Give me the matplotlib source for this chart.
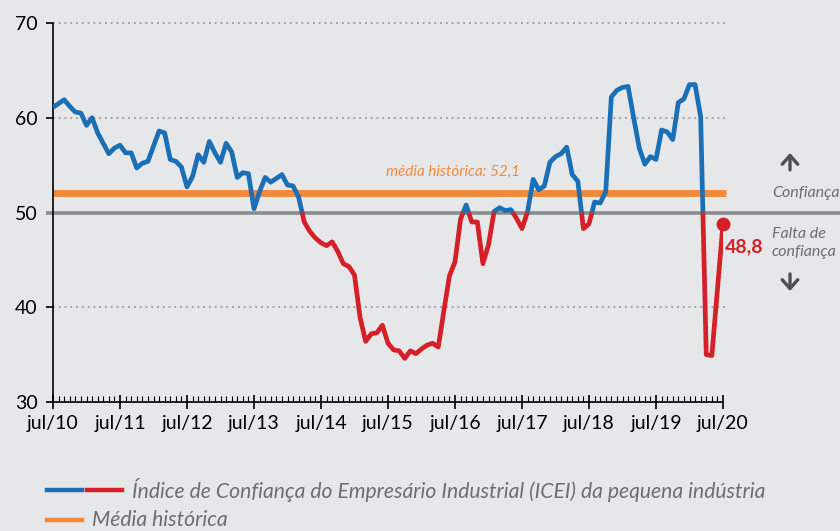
import matplotlib
matplotlib.use('Agg')
import matplotlib.pyplot as plt
from matplotlib.lines import Line2D
from matplotlib.patches import FancyArrowPatch
import numpy as np

# ICEI pequena industria, monthly jul/10 .. jul/20
icei = [61.1, 61.5, 61.9, 61.2, 60.6, 60.5, 59.2, 60.0, 58.4, 57.3,
        56.2, 56.8, 57.1, 56.3, 56.3, 54.7, 55.2, 55.4, 57.0, 58.6,
        58.4, 55.6, 55.4, 54.8, 52.7, 53.8, 56.1, 55.3, 57.5, 56.3,
        55.3, 57.3, 56.4, 53.7, 54.2, 54.1, 50.4, 52.2, 53.7, 53.2,
        53.6, 54.0, 52.9, 52.8, 51.6, 49.0, 48.0, 47.3, 46.8, 46.5,
        46.9, 45.9, 44.6, 44.3, 43.4, 38.9, 36.4, 37.2, 37.3, 38.1,
        36.2, 35.5, 35.4, 34.6, 35.4, 35.1, 35.6, 36.0, 36.2, 35.8,
        39.6, 43.3, 44.8, 49.3, 50.8, 49.0, 49.0, 44.6, 46.6, 50.1,
        50.5, 50.2, 50.3, 49.4, 48.3, 50.1, 53.5, 52.4, 52.8, 55.3,
        55.9, 56.2, 56.9, 54.0, 53.3, 48.3, 48.8, 51.1, 51.0, 52.2,
        62.2, 62.9, 63.2, 63.3, 60.0, 56.8, 55.1, 55.9, 55.6, 58.7,
        58.5, 57.7, 61.6, 62.0, 63.5, 63.5, 60.1, 35.0, 34.9, 41.8,
        48.8]
tick_labels = ['jul/10', 'jul/11', 'jul/12', 'jul/13', 'jul/14', 'jul/15',
               'jul/16', 'jul/17', 'jul/18', 'jul/19', 'jul/20']
media = 52.1
limite = 50

blue = '#1a6fb5'
red = '#d42029'
orange = '#f28a3c'
gray_txt = '#6d6e71'
bg = '#e6e7e9'

plt.rcParams['font.family'] = ['Lato', 'DejaVu Sans']

# split the series where it crosses 50 so it can be coloured in two parts
xs, ys = [], []
for i in range(len(icei)):
    xs.append(i)
    ys.append(icei[i])
    if i < len(icei) - 1:
        a, b = icei[i], icei[i + 1]
        if (a - limite) * (b - limite) < 0:
            xs.append(i + (limite - a) / (b - a))
            ys.append(limite)
xs = np.array(xs)
ys = np.array(ys)
y_hi = np.where(ys >= limite, ys, np.nan)
y_lo = np.where(ys <= limite, ys, np.nan)

fig = plt.figure(figsize=(8.4, 5.31), dpi=100, facecolor=bg)
ax = fig.add_axes([53 / 840, 1 - 402 / 531, 670 / 840, 379 / 531])
ax.set_facecolor(bg)

n = len(icei) - 1
ax.set_xlim(0, n)
ax.set_ylim(30, 70)

# dotted grid
for g in [40, 60, 70]:
    ax.plot([0, n + 0.3], [g, g], color='#9a9a9a', lw=1.3, ls=(0, (1, 2.2)),
            zorder=1, clip_on=False)

# line at 50
ax.plot([-1.3, n + 21], [limite, limite], color='#8c8c8c', lw=2.6,
        zorder=2, clip_on=False, solid_capstyle='butt')
# historical mean
ax.plot([0, n + 0.5], [media, media], color=orange, lw=5, zorder=2,
        clip_on=False, solid_capstyle='butt')

ax.plot(xs, y_hi, color=blue, lw=3.4, zorder=3, solid_joinstyle='round',
        solid_capstyle='butt')
ax.plot(xs, y_lo, color=red, lw=3.4, zorder=3, solid_joinstyle='round',
        solid_capstyle='butt')
ax.plot([n], [icei[-1]], 'o', color=red, ms=9, zorder=4, clip_on=False)

ax.text(83.6, 54.3, 'média histórica: 52,1', color=orange, style='italic',
        fontsize=11, ha='right', va='center')

for s in ['top', 'right']:
    ax.spines[s].set_visible(False)
ax.spines['left'].set_linewidth(1.2)
ax.spines['bottom'].set_linewidth(1.2)

ax.set_yticks([30, 40, 50, 60, 70])
ax.set_xticks(range(0, n + 1, 12))
ax.set_xticklabels(tick_labels)
ax.set_xticks(range(0, n + 1), minor=True)
ax.tick_params(axis='x', which='major', direction='inout', length=10,
               width=1.2, labelsize=14, pad=4)
ax.tick_params(axis='x', which='minor', direction='in', length=4, width=0.8)
ax.tick_params(axis='y', which='major', direction='out', length=5,
               width=1.2, labelsize=14, pad=6)

# right-side notes
def px(x, y):
    return (x / 840, 1 - y / 531)

for a, b in [(170, 153), (274, 291)]:
    fig.add_artist(FancyArrowPatch(px(790, a), px(790, b),
                                   transform=fig.transFigure,
                                   arrowstyle='->,head_length=0.45,head_width=0.4',
                                   mutation_scale=14, lw=2.4, color='#505050',
                                   shrinkA=0, shrinkB=0,
                                   capstyle='round', joinstyle='round'))
fig.text(*px(772, 193), 'Confiança', color=gray_txt,
         style='italic', fontsize=11.5, ha='left', va='center')
fig.text(*px(772, 243), 'Falta de\nconfiança', color=gray_txt,
         style='italic', fontsize=11.5, ha='left', va='center',
         linespacing=1.3)
fig.text(*px(725, 247), '48,8', color=red, fontweight='bold',
         fontsize=14, ha='left', va='center')

# legend
fig.add_artist(Line2D([47 / 840, 82 / 840], [1 - 490 / 531] * 2, color=blue,
                      lw=3.2, transform=fig.transFigure))
fig.add_artist(Line2D([87 / 840, 122 / 840], [1 - 490 / 531] * 2, color=red,
                      lw=3.2, transform=fig.transFigure))
fig.add_artist(Line2D([47 / 840, 82 / 840], [1 - 520 / 531] * 2,
                      color=orange, lw=3.2, transform=fig.transFigure))
fig.text(*px(132, 490),
         'Índice de Confiança do Empresário Industrial (ICEI) da pequena indústria',
         color=gray_txt, style='italic', fontsize=15.2, ha='left', va='center')
fig.text(*px(92, 520), 'Média histórica', color=gray_txt,
         style='italic', fontsize=15.2, ha='left', va='center')

fig.savefig('out.png', dpi=100, facecolor=bg)
